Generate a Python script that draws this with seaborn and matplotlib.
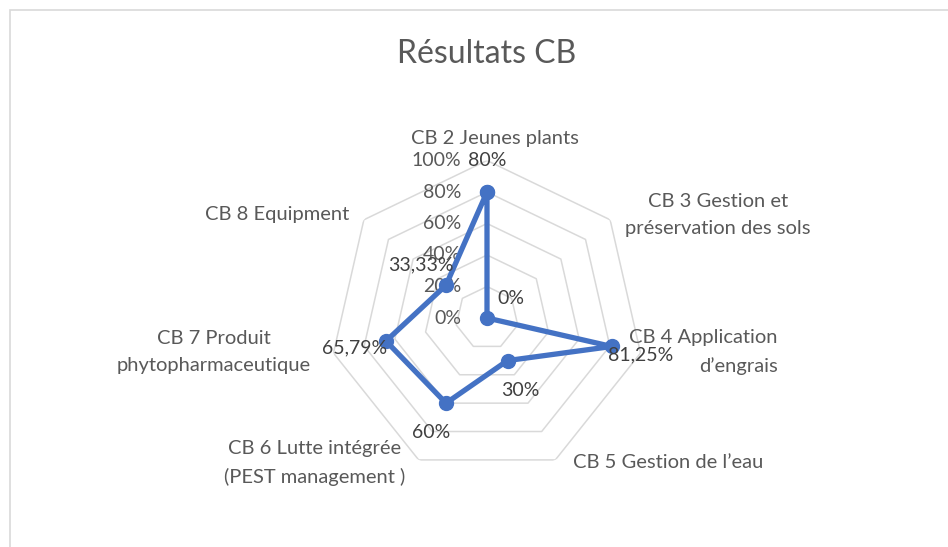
import numpy as np
import matplotlib
matplotlib.use('Agg')
import matplotlib.pyplot as plt
import seaborn as sns
from matplotlib.patches import Rectangle

#%%     # Data

categories = ['CB 2 Jeunes plants', 'CB 3 Gestion et\npréservation des sols',
              'CB 4 Application\nd\u2019engrais', 'CB 5 Gestion de l\u2019eau',
              'CB 6 Lutte intégrée\n(PEST management )', 'CB 7 Produit\nphytopharmaceutique',
              'CB 8 Equipment']
values = [0.80, 0.0, 0.8125, 0.30, 0.60, 0.6579, 0.3333]
value_labels = ['80%', '0%', '81,25%', '30%', '60%', '65,79%', '33,33%']
r_ticks = [0.0, 0.2, 0.4, 0.6, 0.8, 1.0]
r_tick_labels = ['0%', '20%', '40%', '60%', '80%', '100%']

#%%     # Style

sns.set_style('white')
plt.rcParams['font.family'] = ['Lato', 'DejaVu Sans']

line_col = '#4472C4'
grid_col = '#D9D9D9'
txt_col = '#595959'
lab_col = '#404040'

fig = plt.figure(figsize=(9.48, 5.47), dpi=100)
fig.patches.append(Rectangle((10 / 948, -0.1), 1.2, 1 - 10 / 547 + 0.1, transform=fig.transFigure,
                             fill=False, edgecolor=grid_col, lw=1.2))

# axes centred at (487, 318) px with a 157.5 px radius
cx, cy, R = 487 / 948, 1 - 318 / 547, 157.5
ax = fig.add_axes([cx - R / 948, cy - R / 547, 2 * R / 948, 2 * R / 547], projection='polar')
ax.set_theta_offset(np.pi / 2)
ax.set_theta_direction(-1)
ax.set_ylim(0, 1)
ax.grid(False)
ax.spines['polar'].set_visible(False)
ax.set_xticks([])
ax.set_yticks([])
ax.patch.set_alpha(0)

n = len(categories)
angles = np.linspace(0, 2 * np.pi, n, endpoint=False)

#%%     # Heptagon grid

ring_t = np.append(angles, angles[0])
for r in r_ticks[1:]:
    ax.plot(ring_t, [r] * (n + 1), color=grid_col, lw=1.1, zorder=1)

for r, lab in zip(r_ticks, r_tick_labels):
    ax.annotate(lab, xy=(0, r), xytext=(-26, 0), textcoords='offset pixels',
                ha='right', va='center', fontsize=14, color=txt_col)

#%%     # Data series

vals_closed = values + values[:1]
ax.plot(ring_t, vals_closed, color=line_col, lw=3.8, zorder=3,
        marker='o', markersize=10, solid_joinstyle='round')

label_offsets = [(0, 32), (24, 20), (29, -8), (13, -30), (-15, -29), (-31, -7), (-25, 20)]
for t, v, lab, off in zip(angles, values, value_labels, label_offsets):
    ax.annotate(lab, xy=(t, v), xytext=off, textcoords='offset pixels',
                ha='center', va='center', fontsize=14, color=lab_col, zorder=4)

#%%     # Category labels, offset in pixels from the outer ring vertices

cat_offsets = [(8, 22), (108, 5), (137, 1), (113, -3), (-104, -3), (-120, 1), (-87, 5)]
cat_ha = ['center', 'center', 'right', 'center', 'center', 'center', 'center']
for t, lab, off, ha in zip(angles, categories, cat_offsets, cat_ha):
    ax.annotate(lab, xy=(t, 1.0), xytext=off, textcoords='offset pixels',
                ha=ha, va='center', multialignment=ha, fontsize=14.5, color=txt_col,
                linespacing=1.7, annotation_clip=False)

fig.text(cx, 1 - 54 / 547, 'Résultats CB', ha='center', va='center', fontsize=23, color=txt_col)

fig.savefig('out.png', dpi=100, facecolor='white')
